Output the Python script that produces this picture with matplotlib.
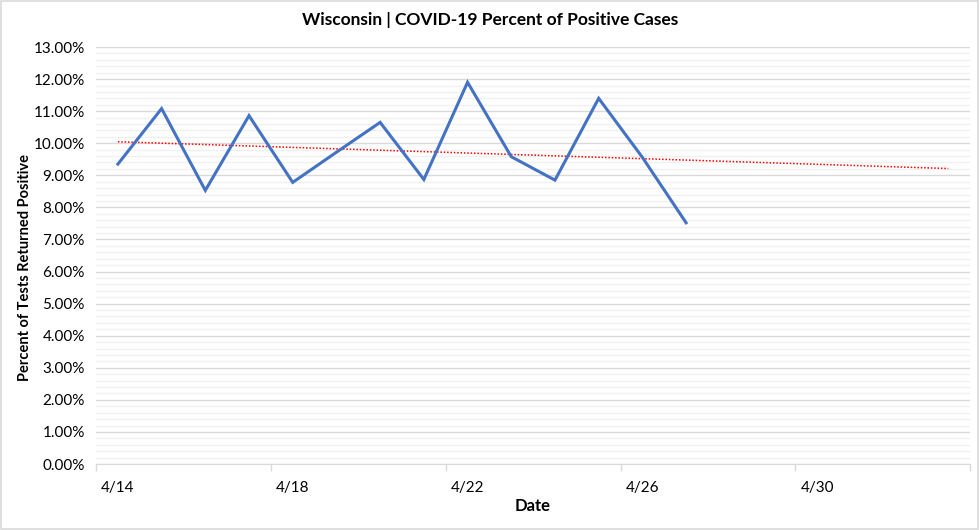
import numpy as np
import matplotlib
matplotlib.use('Agg')
import matplotlib.pyplot as plt
import matplotlib.dates as mdates
from matplotlib.ticker import FuncFormatter, MultipleLocator
import datetime as dt

# daily percent of tests returned positive, Wisconsin
dates = ['4/14', '4/15', '4/16', '4/17', '4/18', '4/19', '4/20',
         '4/21', '4/22', '4/23', '4/24', '4/25', '4/26', '4/27']
pct_positive = [9.35, 11.08, 8.53, 10.86, 8.78, 9.72, 10.65,
                8.87, 11.90, 9.58, 8.85, 11.40, 9.56, 7.52]
tick_labels = ['4/14', '4/18', '4/22', '4/26', '4/30']
forecast_days = 6

plt.rcParams['font.family'] = ['Lato', 'DejaVu Sans']

def to_day(s):
    m, d = s.split('/')
    return mdates.date2num(dt.datetime(2020, int(m), int(d)))

x = np.array([to_day(d) for d in dates])
y = np.array(pct_positive)

# linear trendline, forecast forward like excel
k, b = np.polyfit(x, y, 1)
xt = np.array([x[0], x[-1] + forecast_days])
yt = k * xt + b

fig = plt.figure(figsize=(9.8, 5.3), dpi=100)
ax = fig.add_axes([0.098, 0.1245, 0.892, 0.7868])

ax.plot(x, y, color='#4472C4', lw=2.2, zorder=3, solid_joinstyle='miter')
ax.plot(xt, yt, color='#FF0000', lw=1.1, ls=(0, (1, 1.2)), zorder=2)

ax.set_xlim(x[0] - 0.5, xt[-1] + 0.5)
ax.set_ylim(0, 13)

ax.yaxis.set_major_locator(MultipleLocator(1))
ax.yaxis.set_minor_locator(MultipleLocator(0.2))
ax.yaxis.set_major_formatter(FuncFormatter(lambda v, p: '%.2f%%' % v))
ax.grid(which='major', axis='y', color='#D9D9D9', lw=1.0)
ax.grid(which='minor', axis='y', color='#F0F0F0', lw=1.0)
ax.set_axisbelow(True)

# ticks on category boundaries, labels centred on the days
ax.set_xticks(np.arange(x[0] - 0.5, xt[-1] + 1, 4))
ax.set_xticklabels([])
ax.set_xticks([to_day(t) for t in tick_labels], minor=True)
ax.set_xticklabels(tick_labels, minor=True)
ax.tick_params(axis='x', which='major', length=5, color='#D9D9D9', width=1)
ax.tick_params(axis='x', which='minor', length=0, pad=12, labelsize=11)
ax.tick_params(axis='y', which='both', length=0, pad=8, labelsize=11)

for s in ['top', 'right', 'left']:
    ax.spines[s].set_visible(False)
ax.spines['bottom'].set_color('#D9D9D9')

fig.text(0.5, 1 - 20 / 530, 'Wisconsin | COVID-19 Percent of Positive Cases',
         fontsize=12.5, fontweight='bold', ha='center', va='center')
ax.set_xlabel('Date', fontsize=12, fontweight='bold')
ax.set_ylabel('Percent of Tests Returned Positive', fontsize=10.5,
              fontweight='bold')
ax.xaxis.set_label_coords(0.5, -0.10)
ax.yaxis.set_label_coords(-0.081, 0.472)
ax.xaxis.label.set_va('center')
ax.yaxis.label.set_va('center')

# light chart-area border
fig.patches.append(plt.Rectangle((0.001, 0.002), 0.997, 0.996,
                                 transform=fig.transFigure, fill=False,
                                 edgecolor='#D9D9D9', lw=1.2))

plt.savefig('out.png', dpi=100)
